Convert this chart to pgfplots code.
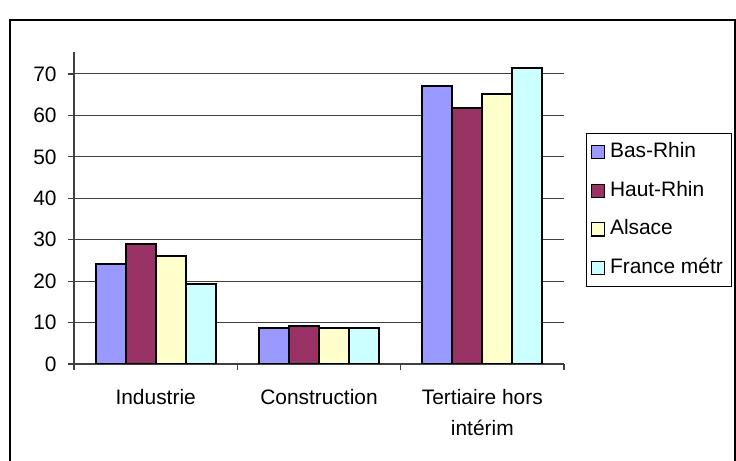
\documentclass[border=0pt]{standalone}
\usepackage{fontspec}
\setmainfont{Liberation Sans}
\usepackage{pgfplots}
\pgfplotsset{compat=1.18}

\definecolor{basrhin}{HTML}{9999FF}
\definecolor{hautrhin}{HTML}{993366}
\definecolor{alsace}{HTML}{FFFFCC}
\definecolor{france}{HTML}{CCFFFF}
\definecolor{axisgray}{HTML}{404040}

\pgfplotsset{
  sqlegend/.style={legend image code/.code={%
    \draw[##1,draw=black,line width=0.6bp] (0bp,-3.3bp) rectangle (6.6bp,3.3bp);}},
}

\begin{document}
\fontsize{10.5}{12}\selectfont
\begin{tikzpicture}
\useasboundingbox (0,0) rectangle (368bp,230.5bp);
% chart frame (bottom edge lies outside the picture)
\draw[line width=0.75bp] (5bp,-5bp) -- (5bp,220.5bp) -- (367.6bp,220.5bp) -- (367.6bp,-5bp);
\begin{axis}[
    at={(37bp,48.5bp)}, anchor=south west,
    scale only axis, width=245bp, height=156bp,
    xmin=-0.5, xmax=2.5, ymin=0, ymax=75.3,
    ybar=0pt, bar width=15bp,
    axis lines*=left,
    axis line style={axisgray, line width=0.6bp},
    ytick={0,10,...,70},
    ymajorgrids, grid style={axisgray, line width=0.5bp},
    xtick={-0.5,0.5,1.5,2.5}, xticklabels={},
    extra x ticks={0,1,2},
    extra x tick labels={Industrie,Construction,{Tertiaire hors\\intérim}},
    extra x tick style={major tick length=0pt},
    xticklabel style={align=center, font=\fontsize{10.5}{15.5}\selectfont, yshift=-9bp},
    yticklabel style={font=\fontsize{10.5}{12}\selectfont, xshift=-2bp},
    tick style={axisgray, line width=0.6bp},
    tick align=outside, major tick length=3bp,
    /pgf/number format/assume math mode=true,
    legend style={at={(1.045,0.740)}, anchor=north west,
      draw=black, line width=0.6bp, inner xsep=2bp, inner ysep=3.5bp,
      row sep=7.8bp, font=\fontsize{10.5}{12}\selectfont,
      nodes={inner ysep=1bp, inner xsep=2.5bp, text height=7.5bp, text depth=2bp}},
    legend cell align=left,
]
\addplot[fill=basrhin, draw=black, line width=1bp, sqlegend] coordinates {(0,24.1) (1,8.6) (2,67.2)};
\addplot[fill=hautrhin, draw=black, line width=1bp, sqlegend] coordinates {(0,29.0) (1,9.1) (2,61.8)};
\addplot[fill=alsace, draw=black, line width=1bp, sqlegend] coordinates {(0,26.1) (1,8.6) (2,65.2)};
\addplot[fill=france, draw=black, line width=1bp, sqlegend] coordinates {(0,19.3) (1,8.6) (2,71.5)};
\legend{Bas-Rhin, Haut-Rhin, Alsace, France métr}
\end{axis}
\end{tikzpicture}
\end{document}
